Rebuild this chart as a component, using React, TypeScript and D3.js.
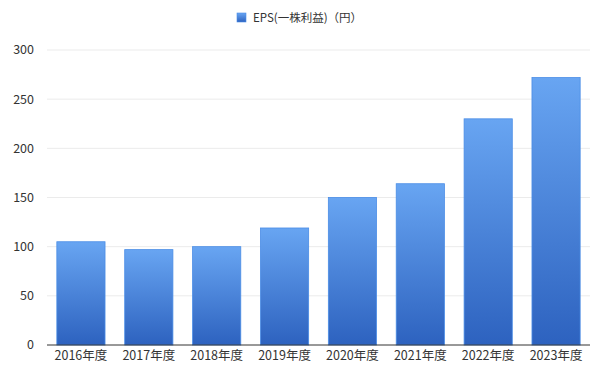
import React from "react";
import * as d3 from "d3";

const categories = ["2016年度", "2017年度", "2018年度", "2019年度", "2020年度", "2021年度", "2022年度", "2023年度"];
const epsValues = [105, 97, 100, 119, 150, 164, 230, 272];
const yTicks = [0, 50, 100, 150, 200, 250, 300];
const seriesName = "EPS(一株利益)（円）";

const W = 600;
const H = 373;
const margin = { top: 50, right: 10, bottom: 28, left: 47 };
const FONT = "'Noto Sans CJK JP', 'Noto Sans', sans-serif";

export default function App() {
  const x = d3
    .scaleBand<string>()
    .domain(categories)
    .range([margin.left, W - margin.right])
    .paddingInner(0.29)
    .paddingOuter(0.145);
  const y = d3.scaleLinear().domain([0, 300]).range([H - margin.bottom, margin.top]);

  return (
    <svg width={W} height={H} style={{ position: "absolute", left: 0, top: 0, fontFamily: FONT }}>
      <defs>
        <linearGradient id="barGrad" x1="0" y1="0" x2="0" y2="1">
          <stop offset="0%" stopColor="#68a5f2" />
          <stop offset="100%" stopColor="#2d62bf" />
        </linearGradient>
      </defs>
      <rect x={0} y={0} width={W} height={H} fill="#fff" />
      {yTicks.map((t) => (
        <g key={t}>
          {t !== 0 && (
            <line x1={margin.left} x2={W - margin.right} y1={y(t)} y2={y(t)} stroke="#ebebeb" strokeWidth={1} />
          )}
          <text x={34} y={y(t)} dy="0.35em" textAnchor="end" fontSize={12.5} fill="#333">
            {t}
          </text>
        </g>
      ))}
      {categories.map((c, i) => (
        <rect
          key={c}
          x={x(c)}
          y={y(epsValues[i])}
          width={x.bandwidth()}
          height={y(0) - y(epsValues[i])}
          fill="url(#barGrad)"
          stroke="#4a8de6"
          strokeWidth={0.8}
        />
      ))}
      <line x1={margin.left} x2={W - margin.right} y1={y(0)} y2={y(0)} stroke="#333" strokeWidth={1} />
      {categories.map((c) => (
        <text key={c} x={(x(c) as number) + x.bandwidth() / 2} y={y(0) + 15} textAnchor="middle" fontSize={12.5} fill="#333">
          {c}
        </text>
      ))}
      <g>
        <rect x={237} y={13} width={9} height={9} fill="url(#barGrad)" stroke="#4a8de6" strokeWidth={0.6} />
        <text x={253} y={17.5} dy="0.35em" fontSize={11.5} fill="#333">
          {seriesName}
        </text>
      </g>
    </svg>
  );
}
